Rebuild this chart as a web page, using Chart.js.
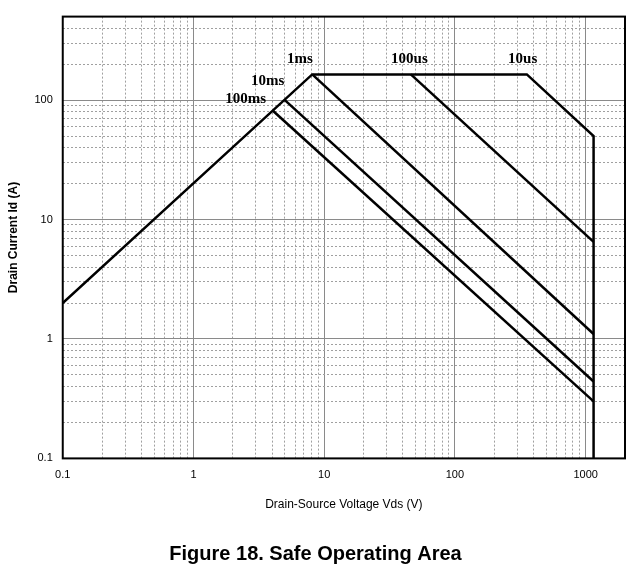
<!DOCTYPE html>
<html><head>
<script src="https://cdn.jsdelivr.net/npm/chart.js@4"></script>
<style>body{margin:0;background:#fff}#wrap{width:635px;height:578px}</style>
</head><body>
<div id="wrap"><canvas id="soa"></canvas></div>
<script>
// SOA boundary and pulse-width lines (Vds V, Id A)
const boundaryVds = [0.1, 8.1, 355, 1150, 1150];
const boundaryId = [2, 164, 164, 50, 0.1];
const line100msVds = [4.07, 1150];
const line100msId = [81, 0.3];
const line10msVds = [5, 1150];
const line10msId = [100, 0.44];
const line1msVds = [8.1, 1150];
const line1msId = [164, 1.1];
const line100usVds = [46, 1150];
const line100usId = [164, 6.5];
const pulseLabels = [
  { text: '1ms', vds: 5.2, id: 219 },
  { text: '10ms', vds: 2.75, id: 143 },
  { text: '100ms', vds: 1.75, id: 102 },
  { text: '100us', vds: 32.5, id: 219 },
  { text: '10us', vds: 255, id: 219 }
];

const pts = (xs, ys) => xs.map((x, i) => ({ x: x, y: ys[i] }));
const mk = (xs, ys) => ({ data: pts(xs, ys), borderColor: '#000', borderWidth: 2.5, pointRadius: 0, showLine: true, fill: false });

function logTicks(min, max) {
  let t = [];
  for (let p = -1; p <= 3; p++) {
    for (let m = 1; m <= 9; m++) {
      const v = +(m * Math.pow(10, p)).toPrecision(3);
      if (v >= min && v <= max) t.push({ value: v });
    }
  }
  return t;
}
const isMajor = v => Math.abs(Math.log10(v) - Math.round(Math.log10(v))) < 1e-6;

const labelPlugin = {
  id: 'pulseLabels',
  afterDatasetsDraw(chart) {
    const ctx = chart.ctx, xs = chart.scales.x, ys = chart.scales.y;
    ctx.save();
    ctx.font = 'bold 15px "Liberation Serif", serif';
    ctx.fillStyle = '#000';
    ctx.textBaseline = 'middle';
    for (const l of pulseLabels) ctx.fillText(l.text, xs.getPixelForValue(l.vds), ys.getPixelForValue(l.id));
    const a = chart.chartArea;
    ctx.lineWidth = 2;
    ctx.strokeStyle = '#000';
    ctx.strokeRect(a.left, a.top, a.right - a.left, a.bottom - a.top);
    ctx.restore();
  }
};

const gridOpts = {
  color: c => (c.tick && isMajor(c.tick.value)) ? '#8a8a8a' : '#a0a0a0',
  lineWidth: 1,
  drawTicks: false
};

new Chart(document.getElementById('soa'), {
  type: 'scatter',
  data: {
    datasets: [
      mk(boundaryVds, boundaryId),
      mk(line100msVds, line100msId),
      mk(line10msVds, line10msId),
      mk(line1msVds, line1msId),
      mk(line100usVds, line100usId)
    ]
  },
  options: {
    responsive: true, maintainAspectRatio: false, animation: false,
    layout: { padding: { left: 2, right: 6, top: 12, bottom: 8 } },
    plugins: {
      legend: { display: false }, tooltip: { enabled: false },
      title: { display: true, position: 'bottom', text: 'Figure 18. Safe Operating Area', color: '#000',
        font: { family: '"Liberation Sans Narrow", "Liberation Sans", Arial', size: 20, weight: 'bold' }, padding: { top: 26, bottom: 4 } }
    },
    scales: {
      x: {
        type: 'logarithmic', min: 0.1, max: 2000,
        afterBuildTicks: s => { s.ticks = logTicks(0.1, 2000); },
        ticks: { autoSkip: false, maxRotation: 0, color: '#000', font: { family: '"Liberation Sans", Arial', size: 11 }, padding: 10,
          callback: v => isMajor(v) ? String(v) : '' },
        grid: gridOpts,
        border: { dash: c => (c.tick && isMajor(c.tick.value)) ? [] : [2, 2] },
        title: { display: true, text: 'Drain-Source Voltage Vds (V)', color: '#000', font: { family: '"Liberation Sans", Arial', size: 12 }, padding: { top: 6 } }
      },
      y: {
        type: 'logarithmic', min: 0.1, max: 500,
        afterBuildTicks: s => { s.ticks = logTicks(0.1, 500); },
        ticks: { autoSkip: false, color: '#000', font: { family: '"Liberation Sans", Arial', size: 11 }, padding: 10,
          callback: v => isMajor(v) ? String(v) : '' },
        grid: gridOpts,
        border: { dash: c => (c.tick && isMajor(c.tick.value)) ? [] : [2, 2] },
        title: { display: true, text: 'Drain Current Id (A)', color: '#000', font: { family: '"Liberation Sans", Arial', size: 12, weight: 'bold' }, padding: { bottom: 4 } }
      }
    }
  },
  plugins: [labelPlugin]
});
</script>
</body></html>
